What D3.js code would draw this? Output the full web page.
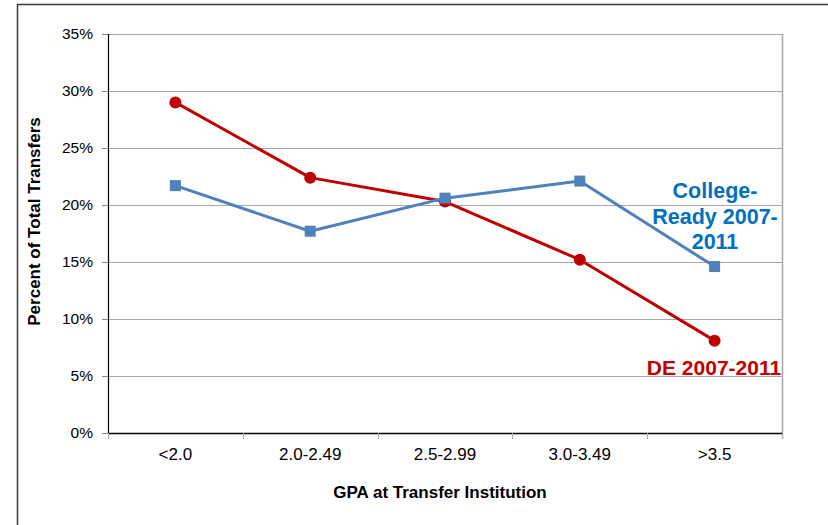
<!DOCTYPE html>
<html>
<head>
<meta charset="utf-8">
<script src="https://cdn.jsdelivr.net/npm/d3@7"></script>
<style>
  html, body { margin: 0; padding: 0; background: #fff; }
  svg { display: block; font-family: "Liberation Sans", Arial, sans-serif; }
</style>
</head>
<body>
<svg id="chart" width="828" height="525"></svg>
<script>
// GPA bands at the transfer institution
const categories = ["<2.0", "2.0-2.49", "2.5-2.99", "3.0-3.49", ">3.5"];
// Share of total transfers (%) per GPA band
const deValues = [29.0, 22.4, 20.3, 15.2, 8.1];
const collegeReadyValues = [21.7, 17.7, 20.6, 22.1, 14.6];
// Y axis ticks (%)
const yTicks = [0, 5, 10, 15, 20, 25, 30, 35];

const svg = d3.select("#chart");
const plot = { left: 108, right: 782, top: 34, bottom: 433 };

// outer frame
svg.append("path")
  .attr("d", "M17.5,525 L17.5,4.5 L828,4.5")
  .attr("fill", "none").attr("stroke", "#3a3a3a").attr("stroke-width", 1.5);

const x = d3.scaleBand().domain(categories).range([plot.left, plot.right]);
const y = d3.scaleLinear().domain([0, 35]).range([plot.bottom, plot.top]);

// horizontal gridlines
svg.append("g").selectAll("line").data(yTicks.filter(d => d > 0)).join("line")
  .attr("x1", plot.left).attr("x2", plot.right)
  .attr("y1", d => Math.round(y(d)) + 0.5).attr("y2", d => Math.round(y(d)) + 0.5)
  .attr("stroke", "#a6a6a6").attr("stroke-width", 1);

// right border of the plot area
svg.append("line")
  .attr("x1", plot.right + 0.5).attr("x2", plot.right + 0.5)
  .attr("y1", plot.top).attr("y2", plot.bottom + 6)
  .attr("stroke", "#a6a6a6").attr("stroke-width", 1.5);

// y axis
const yAxis = svg.append("g")
  .attr("transform", `translate(${plot.left},0)`)
  .call(d3.axisLeft(y).tickValues(yTicks).tickFormat(d => d + "%").tickSize(6).tickPadding(9));
yAxis.select(".domain").attr("stroke", "#000").attr("stroke-width", 1.2);
yAxis.selectAll(".tick line").attr("stroke", "#888");
yAxis.selectAll(".tick text").attr("font-size", 15.5).attr("fill", "#000")
  .attr("font-family", "'Liberation Sans', Arial, sans-serif");

// x axis
const xAxis = svg.append("g")
  .attr("transform", `translate(0,${plot.bottom})`)
  .call(d3.axisBottom(x).tickSize(0).tickPadding(15));
xAxis.select(".domain").attr("stroke", "#000").attr("stroke-width", 1.5);
xAxis.selectAll(".tick text").attr("font-size", 17).attr("fill", "#000")
  .attr("font-family", "'Liberation Sans', Arial, sans-serif");
// category boundary tick marks
const boundaries = categories.map(c => x(c)).concat([x(categories[categories.length - 1]) + x.bandwidth()]);
svg.append("g").selectAll("line").data(boundaries).join("line")
  .attr("x1", d => Math.round(d) + 0.5).attr("x2", d => Math.round(d) + 0.5)
  .attr("y1", plot.bottom).attr("y2", plot.bottom + 6)
  .attr("stroke", "#aaa").attr("stroke-width", 1);

const cx = c => x(c) + x.bandwidth() / 2;
const line = d3.line().x((d, i) => cx(categories[i])).y(d => y(d));

// DE series
svg.append("path").datum(deValues)
  .attr("d", line).attr("fill", "none")
  .attr("stroke", "#c00000").attr("stroke-width", 3).attr("stroke-linejoin", "round");
svg.append("g").selectAll("circle").data(deValues).join("circle")
  .attr("cx", (d, i) => cx(categories[i])).attr("cy", d => y(d))
  .attr("r", 6).attr("fill", "#c00000");

// College-Ready series
svg.append("path").datum(collegeReadyValues)
  .attr("d", line).attr("fill", "none")
  .attr("stroke", "#4f81bd").attr("stroke-width", 3).attr("stroke-linejoin", "round");
svg.append("g").selectAll("rect").data(collegeReadyValues).join("rect")
  .attr("x", (d, i) => cx(categories[i]) - 5.5).attr("y", d => y(d) - 5.5)
  .attr("width", 11).attr("height", 11).attr("fill", "#4f81bd");

// series labels
const crLabel = svg.append("text")
  .attr("text-anchor", "middle").attr("font-size", 21.5).attr("font-weight", "bold")
  .attr("fill", "#0070c0");
["College-", "Ready 2007-", "2011"].forEach((t, i) => {
  crLabel.append("tspan").attr("x", 715).attr("y", 198 + i * 25.5).text(t);
});
svg.append("text")
  .attr("x", 714).attr("y", 375)
  .attr("text-anchor", "middle").attr("font-size", 21).attr("font-weight", "bold")
  .attr("fill", "#c00000").text("DE 2007-2011");

// axis titles
svg.append("text")
  .attr("x", 440).attr("y", 498)
  .attr("text-anchor", "middle").attr("font-size", 17).attr("font-weight", "bold")
  .text("GPA at Transfer Institution");
svg.append("text")
  .attr("transform", `translate(40,${(plot.top + plot.bottom) / 2 - 12}) rotate(-90)`)
  .attr("text-anchor", "middle").attr("font-size", 17).attr("font-weight", "bold")
  .text("Percent of Total Transfers");
</script>
</body>
</html>
